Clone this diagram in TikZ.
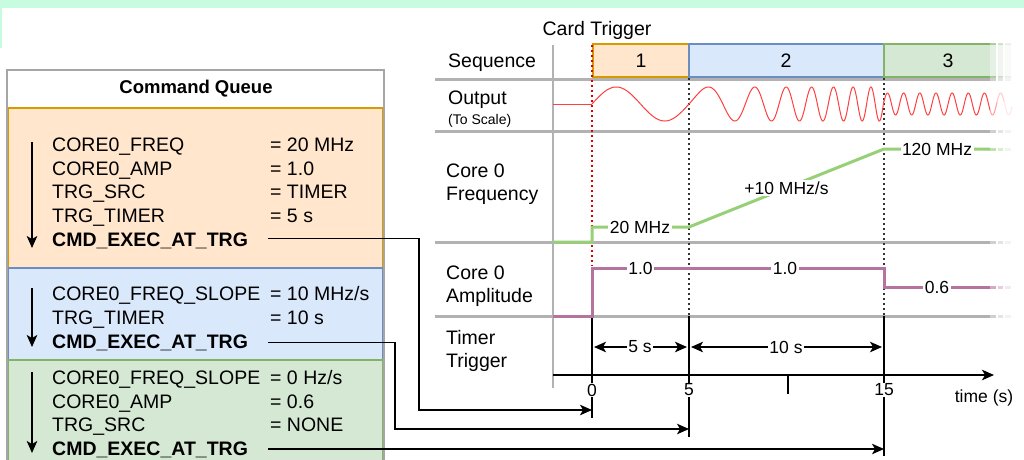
\documentclass[tikz,border=0pt]{standalone}
\usepackage{fontspec}
\setmainfont{Liberation Sans}
\usetikzlibrary{arrows.meta}
\definecolor{mint}{RGB}{200,252,224}
\definecolor{orF}{HTML}{FFE6CC}
\definecolor{orD}{HTML}{D79B00}
\definecolor{blF}{HTML}{DAE8FC}
\definecolor{blD}{HTML}{6C8EBF}
\definecolor{grF}{HTML}{D5E8D4}
\definecolor{grD}{HTML}{82B366}
\definecolor{lineG}{RGB}{178,178,178}
\definecolor{freqG}{HTML}{97D077}
\definecolor{ampM}{HTML}{B5739D}
\definecolor{wave}{RGB}{255,64,64}
\newcommand\fadeline[3]{\foreach \a/\b/\o in {990/996/0.6, 998/1003/0.35, 1005/1011/0.15} {\draw[#1, line width=#3, opacity=\o] (\a,#2) -- (\b,#2);}}
\begin{document}
\begin{tikzpicture}[x=1pt,y=-1pt,
  txt/.style={inner sep=0pt, anchor=base west, font=\fontsize{19.5}{23}\selectfont},
  btxt/.style={inner sep=0pt, anchor=base west, font=\fontsize{19.5}{23}\selectfont\bfseries},
  smalltxt/.style={inner sep=0pt, anchor=base west, font=\fontsize{14}{16}\selectfont},
  lbl/.style={fill=white, inner sep=1.5pt, font=\fontsize{17.5}{20}\selectfont},
  gridline/.style={draw=lineG, line width=3pt},
  conn/.style={line width=1.4pt, -{Stealth[length=12pt,width=10.5pt,inset=3pt]}},
  dimarrow/.style={line width=1.4pt, {Stealth[length=12pt,width=10.5pt,inset=3pt]}-{Stealth[length=12pt,width=10.5pt,inset=3pt]}, shorten <=2pt, shorten >=2pt},
  qarrow/.style={line width=1.5pt, -{Stealth[length=12pt,width=10.5pt,inset=3pt]}},
  redDot/.style={draw=red!85!black, line width=1.2pt, dash pattern=on 1.5pt off 3.5pt},
  blackDot/.style={draw=black!80, line width=1.2pt, dash pattern=on 1.5pt off 3.5pt},
]
\useasboundingbox (0,0) rectangle (1024,459);
\fill[white] (0,0) rectangle (1024,459);
% mint band
\fill[mint] (0,0) rectangle (1024,8);
\fill[mint] (0,8) rectangle (2,48);

% ---------------- command queue ----------------
\draw[draw=black!35, line width=2pt, fill=white] (7,70) rectangle (384,470);
\node[font=\fontsize{18.5}{22}\selectfont\bfseries] (cqtitle) at (196,89) {Command Queue};
\draw[fill=orF, draw=orD, line width=1.5pt] (8.5,108) rectangle (382.5,268);
\draw[fill=blF, draw=blD, line width=1.5pt] (8.5,268) rectangle (382.5,360);
\draw[fill=grF, draw=grD, line width=1.5pt] (8.5,360) rectangle (382.5,475);

% orange block
\node[txt] (a1) at (52,151) {CORE0\_FREQ};
\node[txt] (a1v) at (270,151) {= 20 MHz};
\node[txt] (a2) at (52,175) {CORE0\_AMP};
\node[txt] (a2v) at (270,175) {= 1.0};
\node[txt] (a3) at (52,198) {TRG\_SRC};
\node[txt] (a3v) at (270,198) {= TIMER};
\node[txt] (a4) at (52,222) {TRG\_TIMER};
\node[txt] (a4v) at (270,222) {= 5 s};
\node[btxt] (cmdA) at (52,246) {CMD\_EXEC\_AT\_TRG};
\coordinate (qaT) at (32,142);
\coordinate (qaB) at (32,248);
\draw[qarrow] (qaT) -- (qaB);

% blue block
\node[txt] (b1) at (52,300) {CORE0\_FREQ\_SLOPE};
\node[txt] (b1v) at (270,300) {= 10 MHz/s};
\node[txt] (b2) at (52,324) {TRG\_TIMER};
\node[txt] (b2v) at (270,324) {= 10 s};
\node[btxt] (cmdB) at (52,348) {CMD\_EXEC\_AT\_TRG};
\coordinate (qbT) at (32,288);
\coordinate (qbB) at (32,347);
\draw[qarrow] (qbT) -- (qbB);

% green block
\node[txt] (c1) at (52,384) {CORE0\_FREQ\_SLOPE};
\node[txt] (c1v) at (270,384) {= 0 Hz/s};
\node[txt] (c2) at (52,408) {CORE0\_AMP};
\node[txt] (c2v) at (270,408) {= 0.6};
\node[txt] (c3) at (52,431) {TRG\_SRC};
\node[txt] (c3v) at (270,431) {= NONE};
\node[btxt] (cmdC) at (52,455) {CMD\_EXEC\_AT\_TRG};
\coordinate (qcT) at (32,372);
\coordinate (qcB) at (32,453);
\draw[qarrow] (qcT) -- (qcB);

% ---------------- timing chart ----------------
% sequence boxes
\draw[fill=orF, draw=orD, line width=2pt] (593,44) rectangle (689,77);
\draw[fill=blF, draw=blD, line width=2pt] (689,44) rectangle (884,77);
\fill[grF] (884,44) rectangle (990,77);
\draw[grD, line width=2pt] (990,44) -- (884,44) -- (884,77) -- (990,77);
\foreach \a/\b/\o in {990/996/0.6, 998/1003/0.35, 1005/1011/0.15} {
  \fill[grF, opacity=\o] (\a,44) rectangle (\b,77);
  \draw[grD, line width=2pt, opacity=\o] (\a,44) -- (\b,44) (\a,77) -- (\b,77);
}
\node[font=\fontsize{19.5}{23}\selectfont] (s1) at (641,61) {1};
\node[font=\fontsize{19.5}{23}\selectfont] (s2) at (786,61) {2};
\node[font=\fontsize{19.5}{23}\selectfont] (s3) at (948,61) {3};
\node[font=\fontsize{19.5}{23}\selectfont, inner sep=0pt, anchor=base] (ctrig) at (597,35) {Card Trigger};

% row labels
\node[txt] (lseq) at (448,67) {Sequence};
\node[txt] (lout) at (448,104) {Output};
\node[smalltxt] (lscale) at (448,124) {(To Scale)};
\node[txt] (lf1) at (446,177) {Core 0};
\node[txt] (lf2) at (446,200) {Frequency};
\node[txt] (la1) at (446,279) {Core 0};
\node[txt] (la2) at (446,302) {Amplitude};
\node[txt] (lt1) at (446,344) {Timer};
\node[txt] (lt2) at (446,367) {Trigger};

% grid lines
\foreach \yy in {79,131,242,316} {
  \draw[gridline] (435,\yy) -- (990,\yy);
  \fadeline{lineG}{\yy}{3pt}
}
\draw[lineG, line width=2.5pt] (553,45) -- (553,388);

% dotted markers
\draw[redDot] (592,45) -- (592,266);
\draw[blackDot] (689,78) -- (689,316);
\draw[blackDot] (884,78) -- (884,316);
% solid trigger lines
\coordinate (t0top) at (592,316);
\coordinate (t5top) at (689,316);
\coordinate (t15top) at (884,316);
\coordinate (t0) at (592,410);
\coordinate (t5) at (689,429);
\coordinate (t15) at (884,449);
\draw[line width=1.4pt] (t0top) -- (592,418);
\draw[line width=1.4pt] (t5top) -- (689,437);
\draw[line width=1.4pt] (t15top) -- (884,456);

% output waveform
\draw[wave, line width=1pt] (553,104) -- (592,104);
\draw[wave, line width=1pt] plot[domain=0:1, samples=120] ({592+97*\x}, {104-17*sin(360*\x)});
\draw[wave, line width=1pt] plot[domain=0:1, samples=600] ({689+195*\x}, {104-17*sin(360*(2.0103*\x+5.0258*\x*\x))});
\draw[wave, line width=1pt] plot[domain=0:106, samples=320] ({884+\x}, {104-11*sin(360*(0.036+0.061856*\x))});
\foreach \a/\b/\o in {106/113/0.5, 113/120/0.28, 120/128/0.12} {
  \draw[wave, line width=1pt, opacity=\o] plot[domain=\a:\b, samples=25] ({884+\x}, {104-11*sin(360*(0.036+0.061856*\x))});
}

% frequency trace
\draw[freqG, line width=3pt] (553,242) -- (592,242) -- (592,227) -- (689,227) -- (884,149) -- (990,149);
\fadeline{freqG}{149}{3pt}
\node[lbl] (f20) at (640,227) {20 MHz};
\node[lbl] (fslope) at (786.5,188) {+10 MHz/s};
\node[lbl] (f120) at (937,149) {120 MHz};

% amplitude trace
\draw[ampM, line width=3pt] (553,316) -- (592,316) -- (592,268) -- (884,268) -- (884,287) -- (990,287);
\fadeline{ampM}{287}{3pt}
\node[lbl] (am1) at (640.5,268) {1.0};
\node[lbl] (am2) at (785,268) {1.0};
\node[lbl] (am3) at (937,287) {0.6};

% timer dimension arrows
\draw[dimarrow] (592,347) -- (689,347);
\draw[dimarrow] (689,347) -- (884,347);
\node[lbl] (d5) at (640,347) {5 s};
\node[lbl] (d10) at (786,347) {10 s};

% time axis
\coordinate (axs) at (553,375);
\coordinate (axe) at (994,375);
\draw[conn, line width=1.6pt] (axs) -- (axe);
\draw[line width=1.4pt] (788,375) -- (788,394);
\node[lbl, inner sep=1pt] (tk0) at (592,390) {0};
\node[lbl, inner sep=1pt] (tk5) at (689,390) {5};
\node[lbl, inner sep=1pt] (tk15) at (884,390) {15};
\node[font=\fontsize{17.5}{20}\selectfont] (tlabel) at (984,398) {time (s)};

% connectors from queue to timeline
\coordinate (bA) at (419,410);
\coordinate (bB) at (395,429);
\draw[conn] ([xshift=20pt,yshift=2pt]cmdA.east) -| (bA) -- (t0);
\draw[conn] ([xshift=20pt]cmdB.east) -| (bB) -- (t5);
\draw[conn] ([xshift=20pt]cmdC.east |- t15) -- (t15);
\end{tikzpicture}
\end{document}
